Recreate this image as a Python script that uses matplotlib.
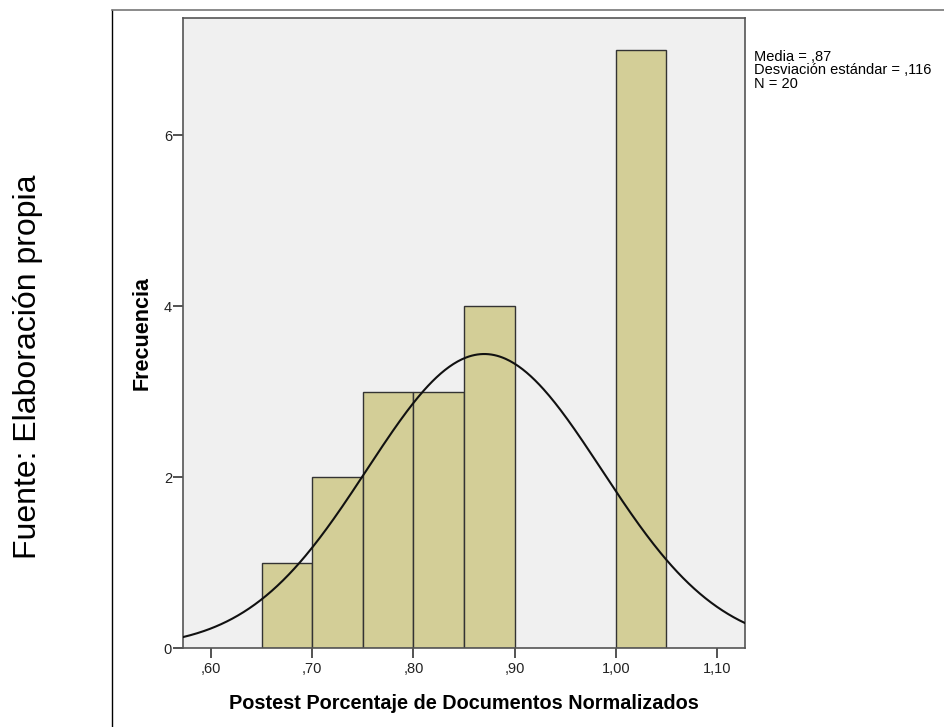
import numpy as np
import matplotlib.pyplot as plt
from matplotlib.lines import Line2D

# histogram data (bin left edges, frequencies)
bin_left = [0.65, 0.70, 0.75, 0.80, 0.85, 1.00]
counts = [1, 2, 3, 3, 4, 7]
bin_width = 0.05

media = 0.87
desv = 0.116
n = 20

xticks = [0.60, 0.70, 0.80, 0.90, 1.00, 1.10]
xtick_labels = [",60", ",70", ",80", ",90", "1,00", "1,10"]
yticks = [0, 2, 4, 6]

plt.rcParams['font.family'] = ['Liberation Sans', 'DejaVu Sans']

fig = plt.figure(figsize=(9.44, 7.27), dpi=100)
ax = fig.add_axes([183 / 944, 1 - 648 / 727, 562 / 944, 630 / 727])
ax.set_facecolor('#f0f0f0')

ax.bar(bin_left, counts, width=bin_width, align='edge',
       color='#d3ce97', edgecolor='#333333', linewidth=1.0, zorder=2)

# normal curve scaled to counts
xs = np.linspace(0.5723, 1.1277, 400)
ys = n * bin_width / (desv * np.sqrt(2 * np.pi)) * np.exp(-0.5 * ((xs - media) / desv) ** 2)
ax.plot(xs, ys, color='#111111', linewidth=1.5, zorder=3)

ax.set_xlim(0.5723, 1.1277)
ax.set_ylim(0, 7.37)
ax.set_xticks(xticks)
ax.set_xticklabels(xtick_labels)
ax.set_yticks(yticks)
ax.tick_params(axis='both', direction='out', length=7, width=1.3,
               color='#444444', labelsize=10.5, labelcolor='#222222')
ax.tick_params(axis='x', pad=3)
ax.tick_params(axis='y', pad=1)
for s in ax.spines.values():
    s.set_color('#555555')
    s.set_linewidth(1.2)

ax.set_xlabel("Postest Porcentaje de Documentos Normalizados",
              fontweight='bold', fontsize=14.3, labelpad=13)
ax.set_ylabel("Frecuencia", fontweight='bold', fontsize=15.5, labelpad=8)

fig.text(754 / 944, 1 - 50 / 727,
         "Media = ,87\nDesviación estándar = ,116\nN = 20",
         fontsize=10.5, va='top', ha='left', linespacing=0.95)

fig.text(28 / 944, 1 - 367 / 727, "Fuente: Elaboración propia",
         rotation=90, fontsize=23, va='center', ha='center')

# outer frame lines
fig.add_artist(Line2D([112 / 944, 112 / 944], [0, 1 - 10 / 727],
                      color='black', linewidth=1.0))
fig.add_artist(Line2D([112 / 944, 1], [1 - 10 / 727, 1 - 10 / 727],
                      color='#777777', linewidth=1.2))

fig.savefig("out.png", dpi=100)
